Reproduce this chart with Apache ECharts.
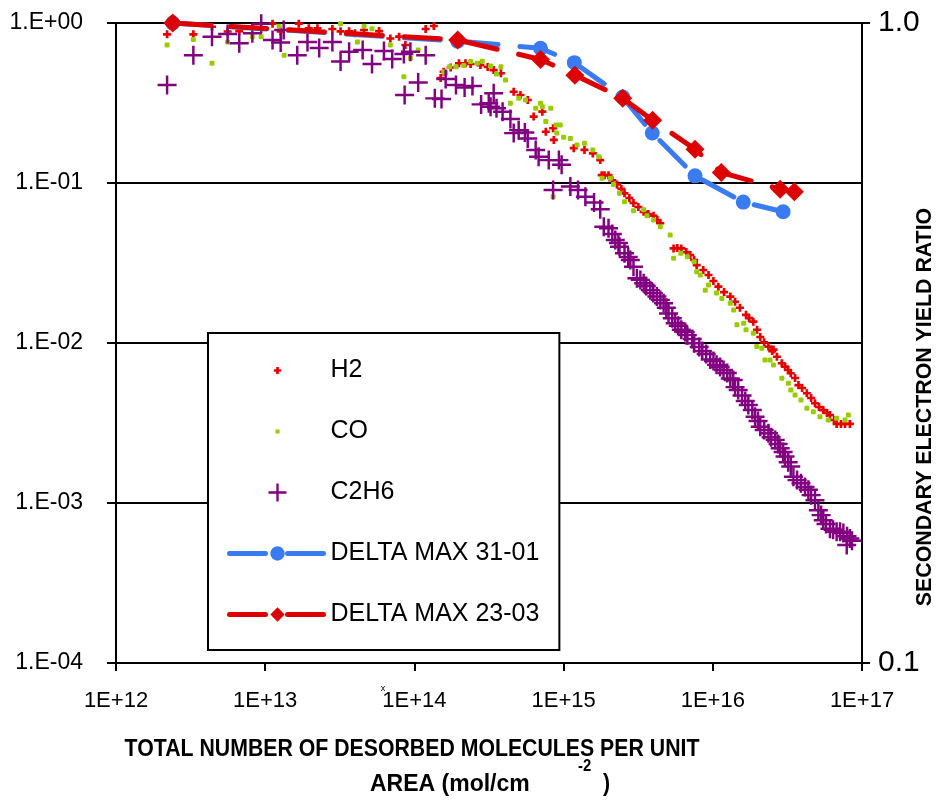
<!DOCTYPE html>
<html><head><meta charset="utf-8">
<script src="https://cdn.jsdelivr.net/npm/echarts@6/dist/echarts.min.js"></script>
<style>html,body{margin:0;padding:0;background:#fff}#c{width:937px;height:800px}</style>
</head><body><div id="c"></div>
<script>
const xTickLabels = ['1E+12','1E+13','1E+14','1E+15','1E+16','1E+17'];
const yTickLabels = ['1.E-04','1.E-03','1.E-02','1.E-01','1.E+00'];
const y2TickLabels = ['0.1','1.0'];

const h2X = [2.2e12,3.3e12,4.4e12,5.6e12,6.7e12,1.12e13,1.27e13,1.68e13,1.96e13,2.24e13,2.82e13,3.2e13,3.65e13,4.0e13,4.6e13,5.8e13,6.9e13,7.9e13,8.7e13,1.19e14,1.35e14,
1.5e14,1.57e14,1.75e14,1.99e14,2.2e14,2.38e14,2.77e14,3.1e14,3.4e14,3.8e14,4.63e14,5.14e14,5.75e14,6.3e14,7.2e14,7.6e14,8.5e14,8.6e14,1.17e15,1.38e15,1.57e15,1.76e15,1.8e15,2.0e15,2.28e15,2.56e15,2.94e15,3.44e15,4.01e15,4.45e15,5.46e15,6.15e15,7.06e15,7.8e15,9.36e15,1.09e16,1.31e16,1.41e16,1.67e16,1.87e16,2.08e16,2.36e16,2.55e16,2.69e16,2.9e16,3.05e16,3.33e16,3.75e16,4.27e16,4.84e16,5.5e16,6.1e16,6.76e16,7.7e16,8.3e16,
1.88e15,2.12e15,2.44e15,2.76e15,3.17e15,3.7e15,4.25e15,5.78e15,6.64e15,7.5e15,8.63e15,1.01e16,1.19e16,1.52e16,1.75e16,1.98e16,2.21e16,2.5e16,3.2e16,3.56e16,3.97e16,4.56e16,5.15e16,5.83e16,6.5e16,7.23e16];
const h2Y = [0.85,0.85,0.948,0.885,0.89,0.99,0.885,0.99,0.927,0.927,0.917,0.887,0.887,0.862,0.904,0.89,0.80,0.821,0.729,0.917,0.958,
0.453,0.496,0.527,0.56,0.56,0.554,0.546,0.531,0.508,0.485,0.372,0.355,0.33,0.26,0.279,0.209,0.22,0.186,0.165,0.161,0.153,0.139,0.112,0.112,0.098,0.0862,0.075,0.066,0.0624,0.056,0.039,0.039,0.0355,0.0307,0.0266,0.0225,0.0195,0.0181,0.015,0.0136,0.0109,0.0095,0.0091,0.0082,0.00747,0.00711,0.00647,0.00546,0.00485,0.0042,0.00381,0.00355,0.00312,0.00312,0.00312,
0.112,0.104,0.0918,0.0806,0.0708,0.064,0.0587,0.0392,0.037,0.033,0.0286,0.0244,0.0208,0.0166,0.0143,0.0121,0.0101,0.0089,0.00678,0.00604,0.00523,0.00453,0.00398,0.00365,0.0033,0.00312];

const coX = [2.2e12,3.3e12,4.4e12,5.6e12,8.2e12,9.4e12,1.24e13,1.34e13,3.2e13,4.15e13,4.6e13,5.2e13,6.9e13,8.5e13,9.4e13,1.06e14,
1.57e14,1.62e14,1.72e14,1.9e14,2.14e14,2.38e14,2.64e14,2.85e14,3.24e14,3.55e14,3.8e14,4.08e14,4.4e14,5.0e14,5.55e14,6.5e14,7.0e14,7.2e14,7.6e14,8.2e14,8.9e14,9.0e14,9.5e14,1.0e15,1.11e15,1.23e15,1.38e15,1.57e15,1.72e15,8.5e14,
1.81e15,2.06e15,2.16e15,2.37e15,2.56e15,2.94e15,3.44e15,3.62e15,4.01e15,4.45e15,5.18e15,5.46e15,6.1e15,6.75e15,7.5e15,7.8e15,8.24e15,8.9e15,9.36e15,1.06e16,1.15e16,1.31e16,1.38e16,1.45e16,1.61e16,1.67e16,1.87e16,1.97e16,2.13e16,2.24e16,2.42e16,2.55e16,2.9e16,3.21e16,3.33e16,3.56e16,3.9e16,4.27e16,4.72e16,5.23e16,5.94e16,6.76e16,7.7e16,8.1e16];
const coY = [0.729,0.79,0.56,0.76,0.821,0.821,0.955,0.628,0.99,0.76,0.955,0.92,0.729,0.462,0.602,0.678,
0.496,0.485,0.533,0.533,0.542,0.575,0.56,0.577,0.538,0.48,0.533,0.44,0.315,0.338,0.33,0.293,0.315,0.30,0.242,0.293,0.23,0.205,0.23,0.193,0.19,0.173,0.177,0.161,0.146,0.082,
0.107,0.107,0.098,0.0862,0.0764,0.067,0.068,0.0624,0.0587,0.0533,0.0473,0.0338,0.0364,0.0346,0.0322,0.0279,0.0266,0.0214,0.023,0.0205,0.019,0.0177,0.0161,0.013,0.0133,0.0121,0.0115,0.0095,0.00927,0.00783,0.00783,0.00729,0.00602,0.0056,0.00508,0.00473,0.0044,0.00391,0.00372,0.00346,0.0033,0.00338,0.0033,0.00355];

const c2h6X = [2.2e12,3.3e12,4.4e12,5.6e12,6.7e12,8.2e12,9.4e12,1.12e13,1.27e13,1.33e13,1.64e13,1.92e13,2.3e13,2.82e13,3.2e13,3.65e13,4.5e13,5.2e13,6.25e13,7.1e13,8.5e13,9.4e13,1.19e14,
8.6e13,1.06e14,1.37e14,1.52e14,1.62e14,1.9e14,2.17e14,2.45e14,2.8e14,3.15e14,3.4e14,3.24e14,3.55e14,3.9e14,4.4e14,4.63e14,5.0e14,5.5e14,5.75e14,6.5e14,6.8e14,7.95e14,9.3e14,9.7e14,8.5e14,1.11e15,1.25e15,1.4e15,1.6e15,1.76e15,
1.86e15,2.0e15,2.22e15,2.37e15,2.56e15,2.8e15,2.94e15,3.1e15,3.44e15,3.81e15,4.22e15,4.68e15,5.05e15,5.6e15,6.15e15,6.75e15,7.5e15,8.5e15,9.6e15,1.06e16,1.18e16,1.31e16,1.41e16,1.57e16,1.73e16,1.92e16,2.08e16,2.36e16,2.62e16,2.83e16,3.05e16,3.33e16,3.47e16,3.9e16,4.37e16,4.84e16,5.1e16,5.5e16,6.1e16,6.76e16,7.5e16,8.3e16,7.9e16,
2.12e15,2.33e15,2.71e15,3.27e15,3.58e15,3.99e15,4.45e15,4.88e15,5.35e15,5.87e15,6.53e15,7.28e15,8.11e15,9.03e15,1.01e16,1.12e16,1.25e16,1.37e16,1.48e16,1.65e16,1.84e16,2.01e16,2.21e16,2.46e16,2.74e16,2.96e16,3.2e16,3.67e16,4.15e16,4.56e16,5.32e16,5.74e16,6.4e16,7.13e16,7.94e16,8.57e16];
const c2h6Y = [0.41,0.628,0.821,0.853,0.747,0.862,0.99,0.783,0.755,0.904,0.628,0.76,0.697,0.76,0.575,0.662,0.678,0.555,0.668,0.595,0.64,0.662,0.628,
0.355,0.425,0.338,0.335,0.447,0.41,0.395,0.404,0.31,0.315,0.364,0.30,0.293,0.279,0.251,0.205,0.214,0.207,0.19,0.161,0.146,0.139,0.139,0.13,0.0904,0.095,0.0904,0.082,0.0755,0.0685,
0.0533,0.0521,0.044,0.040,0.0364,0.033,0.030,0.0254,0.0236,0.0214,0.0195,0.0177,0.0153,0.0133,0.0121,0.0112,0.00995,0.0089,0.0079,0.0073,0.00678,0.006,0.0053,0.0047,0.0041,0.00346,0.0030,0.00273,0.00248,0.0022,0.00195,0.00169,0.00146,0.00133,0.00121,0.00104,0.0009,0.00078,0.00069,0.00066,0.00065,0.0006,0.000546,
0.048,0.0422,0.0345,0.0248,0.0227,0.0205,0.0186,0.0166,0.0143,0.0128,0.0117,0.0106,0.00944,0.00853,0.00772,0.00708,0.00649,0.00587,0.00508,0.00434,0.00381,0.00325,0.00286,0.00258,0.00234,0.00208,0.0018,0.00139,0.00126,0.00112,0.00084,0.00074,0.00068,0.00066,0.00062,0.00058];

const d31X = [2.4e12,1.95e14,7.0e14,1.18e15,2.49e15,3.93e15,7.6e15,1.6e16,2.96e16];
const d31Y = [1.0,0.937,0.913,0.867,0.766,0.673,0.577,0.525,0.507];
const d23X = [2.4e12,1.95e14,7.0e14,1.19e15,2.49e15,3.95e15,7.6e15,1.14e16,2.83e16,3.52e16];
const d23Y = [1.0,0.941,0.877,0.829,0.763,0.705,0.635,0.584,0.55,0.545];

const zip = (a, b) => a.map((v, i) => [v, b[i]]);
const lg = v => Math.round(Math.log10(v));

const FONT = "'Liberation Sans', Arial, sans-serif";

const plusBig = 'path://M0,8.7H8.7V0H11.3V8.7H20V11.3H11.3V20H8.7V11.3H0Z';
const plusSmall = 'path://M0,3H3V0H6V3H9V6H6V9H3V6H0Z';
const legH2 = 'path://M0,0H0.01V0.01Z M40,40H39.99V39.99Z M12,17H17V12H23V17H28V23H23V28H17V23H12Z';
const legCO = 'path://M0,0H0.01V0.01Z M40,40H39.99V39.99Z M15.5,15.5H24.5V24.5H15.5Z';
const dash = {width: 5, type: [36, 22], cap: 'round'};

const chart = echarts.init(document.getElementById('c'), null, {renderer: 'canvas'});
chart.setOption({
  animation: false,
  backgroundColor: '#fff',
  grid: {left: 116, right: 75, top: 23, bottom: 137, containLabel: false, outerBoundsMode: 'none'},
  xAxis: {
    type: 'log', logBase: 10, min: 1e12, max: 1e17,
    axisLine: {show: true, lineStyle: {color: '#000', width: 2}},
    axisTick: {show: true, length: 8, lineStyle: {color: '#000', width: 2}},
    splitLine: {show: false},
    minorTick: {show: false},
    axisLabel: {margin: 27, fontSize: 22, color: '#000', fontFamily: FONT,
      formatter: v => xTickLabels[lg(v) - 12]}
  },
  yAxis: [{
    type: 'log', logBase: 10, min: 1e-4, max: 1, position: 'left',
    axisLine: {show: true, onZero: false, lineStyle: {color: '#000', width: 2}},
    axisTick: {show: true, length: 9, lineStyle: {color: '#000', width: 2}},
    splitLine: {show: true, lineStyle: {color: '#000', width: 2}},
    axisLabel: {margin: 33, fontSize: 23, color: '#000', fontFamily: FONT,
      formatter: v => yTickLabels[lg(v) + 4]}
  }, {
    type: 'log', logBase: 10, min: 0.1, max: 1, position: 'right',
    axisLine: {show: true, lineStyle: {color: '#000', width: 2}},
    axisTick: {show: true, length: 8, lineStyle: {color: '#000', width: 2}},
    splitLine: {show: false},
    axisLabel: {margin: 16, fontSize: 30, color: '#000', fontFamily: FONT,
      formatter: v => y2TickLabels[lg(v) + 1]}
  }],
  legend: {
    orient: 'vertical', left: 208, top: 333,
    padding: [25, 20, 23, 19], itemGap: 36, itemWidth: 96, itemHeight: 18,
    backgroundColor: '#fff', borderColor: '#000', borderWidth: 2,
    textStyle: {fontSize: 25, color: '#000', fontFamily: FONT},
    data: [
      {name: 'H2', icon: legH2},
      {name: 'CO', icon: legCO},
      {name: 'C2H6', icon: plusBig},
      {name: 'DELTA MAX 31-01', lineStyle: dash},
      {name: 'DELTA MAX 23-03', lineStyle: dash}
    ]
  },
  graphic: [
    {type: 'text', x: 412, y: 750, scaleX: 0.925, style: {text: 'TOTAL NUMBER OF DESORBED MOLECULES PER UNIT', align: 'center', verticalAlign: 'middle', fill: '#000', font: 'bold 23px ' + FONT}},
    {type: 'text', x: 370, y: 785, style: {text: 'AREA (mol/cm', align: 'left', verticalAlign: 'middle', fill: '#000', font: 'bold 23px ' + FONT}},
    {type: 'text', x: 578, y: 767, scaleX: 0.925, style: {text: '-2', align: 'left', verticalAlign: 'middle', fill: '#000', font: 'bold 16px ' + FONT}},
    {type: 'text', x: 603, y: 785, scaleX: 0.925, style: {text: ')', align: 'left', verticalAlign: 'middle', fill: '#000', font: 'bold 23px ' + FONT}},
    {type: 'text', x: 925, y: 407, rotation: Math.PI / 2, scaleX: 0.97, style: {text: 'SECONDARY ELECTRON YIELD RATIO', align: 'center', verticalAlign: 'middle', fill: '#000', font: 'bold 22px ' + FONT}},
    {type: 'text', x: 383, y: 689, style: {text: 'x', align: 'center', verticalAlign: 'middle', fill: '#000', font: '9px ' + FONT}}
  ],
  series: [
    {name: 'H2', type: 'scatter', symbol: plusSmall, symbolSize: 8,
      itemStyle: {color: '#e60000', opacity: 1}, data: zip(h2X, h2Y), z: 2},
    {name: 'CO', type: 'scatter', symbol: 'roundRect', symbolSize: 5,
      itemStyle: {color: '#99cc00', opacity: 1}, data: zip(coX, coY), z: 3},
    {name: 'C2H6', type: 'scatter', symbol: plusBig, symbolSize: 19,
      itemStyle: {color: '#800080', opacity: 1}, data: zip(c2h6X, c2h6Y), z: 4},
    {name: 'DELTA MAX 31-01', type: 'line', yAxisIndex: 1, symbol: 'circle', symbolSize: 15,
      showAllSymbol: true,
      lineStyle: Object.assign({color: '#3b7bf2'}, dash),
      itemStyle: {color: '#3b7bf2'}, data: zip(d31X, d31Y), z: 5},
    {name: 'DELTA MAX 23-03', type: 'line', yAxisIndex: 1, symbol: 'diamond', symbolSize: 19,
      showAllSymbol: true,
      lineStyle: Object.assign({color: '#dc0000'}, dash),
      itemStyle: {color: '#dc0000'}, data: zip(d23X, d23Y), z: 6}
  ]
});
</script></body></html>
